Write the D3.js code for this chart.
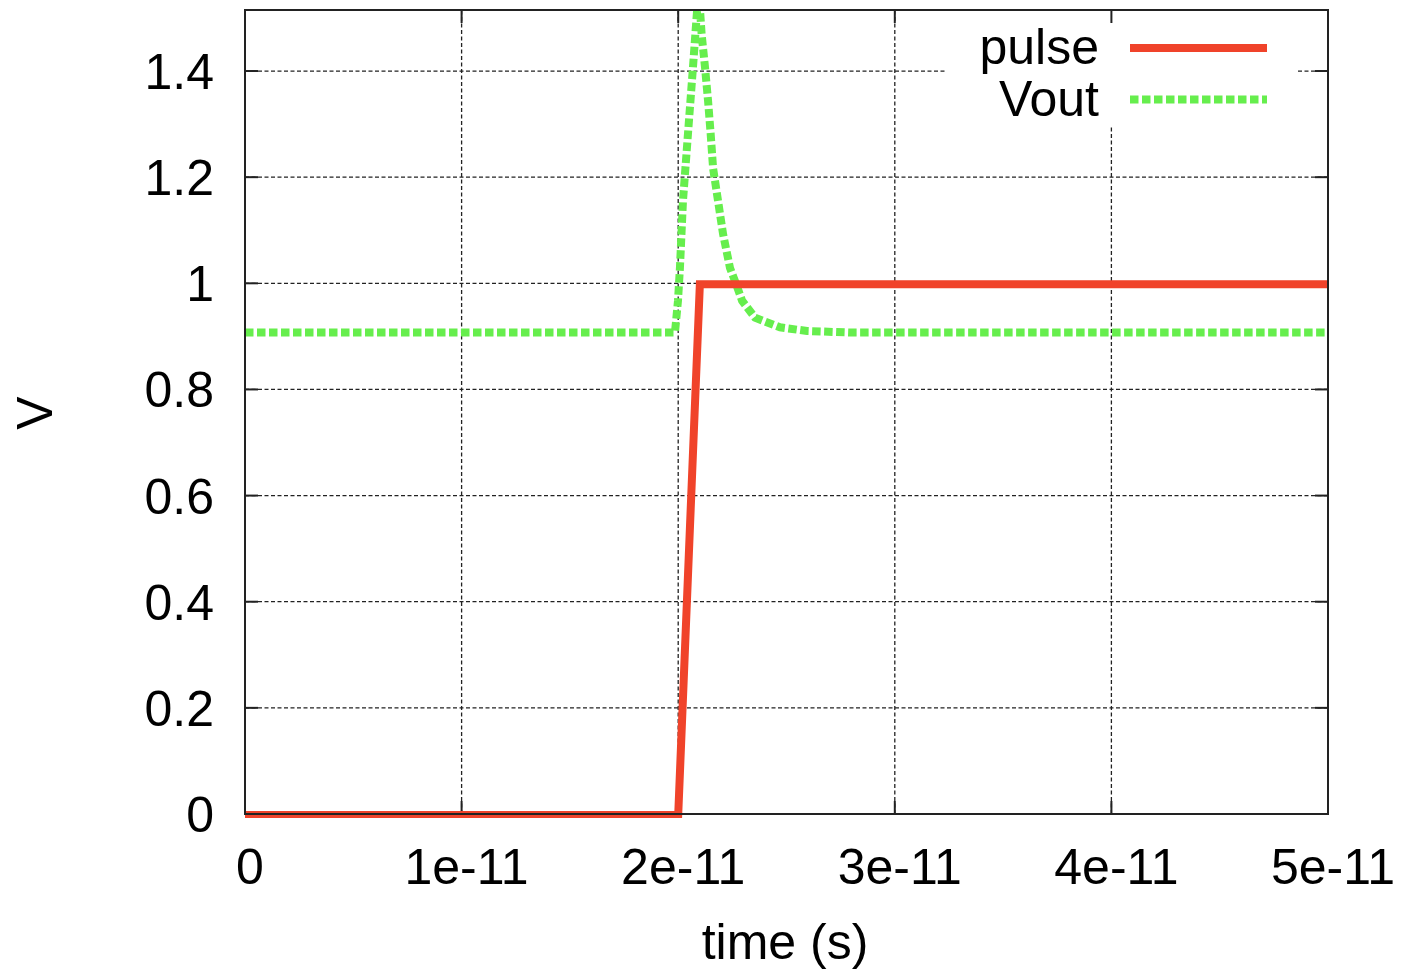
<!DOCTYPE html>
<html>
<head>
<meta charset="utf-8">
<script src="https://cdn.jsdelivr.net/npm/d3@7"></script>
<style>
  html, body { margin: 0; padding: 0; background: #fff; }
  text { font-family: "Liberation Sans", Arial, Helvetica, sans-serif; fill: #000; }
</style>
</head>
<body>
<svg id="chart" width="1401" height="971"></svg>
<script>
// ---- data (time in seconds, voltage in V) ----
const seriesNames = ["pulse", "Vout"];
const pulseT = [0, 2e-11, 2.1e-11, 5e-11];
const pulseV = [0, 0, 1, 1];
const voutT = [0, 1.985e-11, 1.999e-11, 2.008e-11, 2.022e-11, 2.045e-11, 2.068e-11, 2.087e-11,
               2.095e-11, 2.101e-11, 2.108e-11, 2.124e-11, 2.138e-11, 2.150e-11, 2.161e-11,
               2.184e-11, 2.207e-11, 2.239e-11, 2.267e-11, 2.295e-11, 2.355e-11, 2.470e-11,
               2.595e-11, 2.80e-11, 5e-11];
const voutV = [0.909, 0.909, 0.969, 1.031, 1.157, 1.283, 1.408, 1.515,
               1.55, 1.515, 1.472, 1.408, 1.345, 1.283, 1.219,
               1.157, 1.095, 1.031, 1.001, 0.969, 0.937, 0.919,
               0.912, 0.909, 0.909];
const xTicks = [0, 1e-11, 2e-11, 3e-11, 4e-11, 5e-11];
const xTickLabels = ["0", "1e-11", "2e-11", "3e-11", "4e-11", "5e-11"];
const yTicks = [0, 0.2, 0.4, 0.6, 0.8, 1, 1.2, 1.4];
const yTickLabels = ["0", "0.2", "0.4", "0.6", "0.8", "1", "1.2", "1.4"];
const xLabel = "time (s)";
const yLabel = "V";

// ---- layout ----
const L = 245, R = 1328, T = 10, B = 814;
const colors = { pulse: "#f0432a", Vout: "#66ee4d" };

const svg = d3.select("#chart");
const x = d3.scaleLinear().domain([0, 5e-11]).range([L, R]);
const y = d3.scaleLinear().domain([0, 1.515]).range([B, T]);

svg.append("defs").append("clipPath").attr("id", "plotclip")
  .append("rect").attr("x", L).attr("y", T).attr("width", R - L).attr("height", B - T + 4);

// grid
const grid = svg.append("g").attr("stroke", "#222").attr("stroke-width", 1.3)
  .attr("stroke-dasharray", "4,2.5").attr("fill", "none");
grid.selectAll("line.gx").data(xTicks.filter(d => d > 0 && d < 5e-11)).join("line")
  .attr("x1", d => x(d)).attr("x2", d => x(d)).attr("y1", B).attr("y2", T);
grid.selectAll("line.gy").data(yTicks.filter(d => d > 0)).join("line")
  .attr("y1", d => y(d)).attr("y2", d => y(d)).attr("x1", L).attr("x2", R);

// legend background box
svg.append("rect").attr("x", 947).attr("y", T + 1).attr("width", 350).attr("height", 114).attr("fill", "#fff");

// ticks (mirrored, inward)
const tk = svg.append("g").attr("stroke", "#222").attr("stroke-width", 2);
const tl = 13;
xTicks.forEach(d => {
  tk.append("line").attr("x1", x(d)).attr("x2", x(d)).attr("y1", B).attr("y2", B - tl);
  tk.append("line").attr("x1", x(d)).attr("x2", x(d)).attr("y1", T).attr("y2", T + tl);
});
yTicks.forEach(d => {
  tk.append("line").attr("y1", y(d)).attr("y2", y(d)).attr("x1", L).attr("x2", L + tl);
  tk.append("line").attr("y1", y(d)).attr("y2", y(d)).attr("x1", R).attr("x2", R - tl);
});

// data lines
const plot = svg.append("g").attr("clip-path", "url(#plotclip)");
const line = d3.line().x(d => x(d[0])).y(d => y(d[1]) + 1);
const pulseData = pulseT.map((t, i) => [t, pulseV[i]]);
const voutData = voutT.map((t, i) => [t, voutV[i]]);
plot.append("path").attr("d", line(voutData)).attr("fill", "none")
  .attr("stroke", colors.Vout).attr("stroke-width", 8).attr("stroke-dasharray", "8.5,3.5");
plot.append("path").attr("d", line(pulseData)).attr("fill", "none")
  .attr("stroke", colors.pulse).attr("stroke-width", 8).attr("stroke-linejoin", "miter");

// legend
const legY = [48, 99.5];
seriesNames.forEach((name, i) => {
  svg.append("text").attr("x", 1099).attr("y", legY[i] + 16).attr("text-anchor", "end")
    .attr("font-size", 50).text(name);
  svg.append("line").attr("x1", 1130).attr("x2", 1267).attr("y1", legY[i]).attr("y2", legY[i])
    .attr("stroke", colors[name]).attr("stroke-width", 8)
    .attr("stroke-dasharray", name === "Vout" ? "8.5,3.5" : null);
});

// border
svg.append("rect").attr("x", L).attr("y", T).attr("width", R - L).attr("height", B - T)
  .attr("fill", "none").attr("stroke", "#222").attr("stroke-width", 2);

// tick labels
svg.append("g").selectAll("text").data(xTicks).join("text")
  .attr("x", d => x(d) + 5).attr("y", 884).attr("text-anchor", "middle")
  .attr("font-size", 50).text((d, i) => xTickLabels[i]);
svg.append("g").selectAll("text").data(yTicks).join("text")
  .attr("x", 214).attr("y", d => y(d) + 18).attr("text-anchor", "end")
  .attr("font-size", 50).text((d, i) => yTickLabels[i]);

// axis titles
svg.append("text").attr("x", 785).attr("y", 959).attr("text-anchor", "middle")
  .attr("font-size", 50).text(xLabel);
svg.append("text").attr("transform", "translate(52,413) rotate(-90)").attr("text-anchor", "middle")
  .attr("font-size", 50).text(yLabel);
</script>
</body>
</html>
